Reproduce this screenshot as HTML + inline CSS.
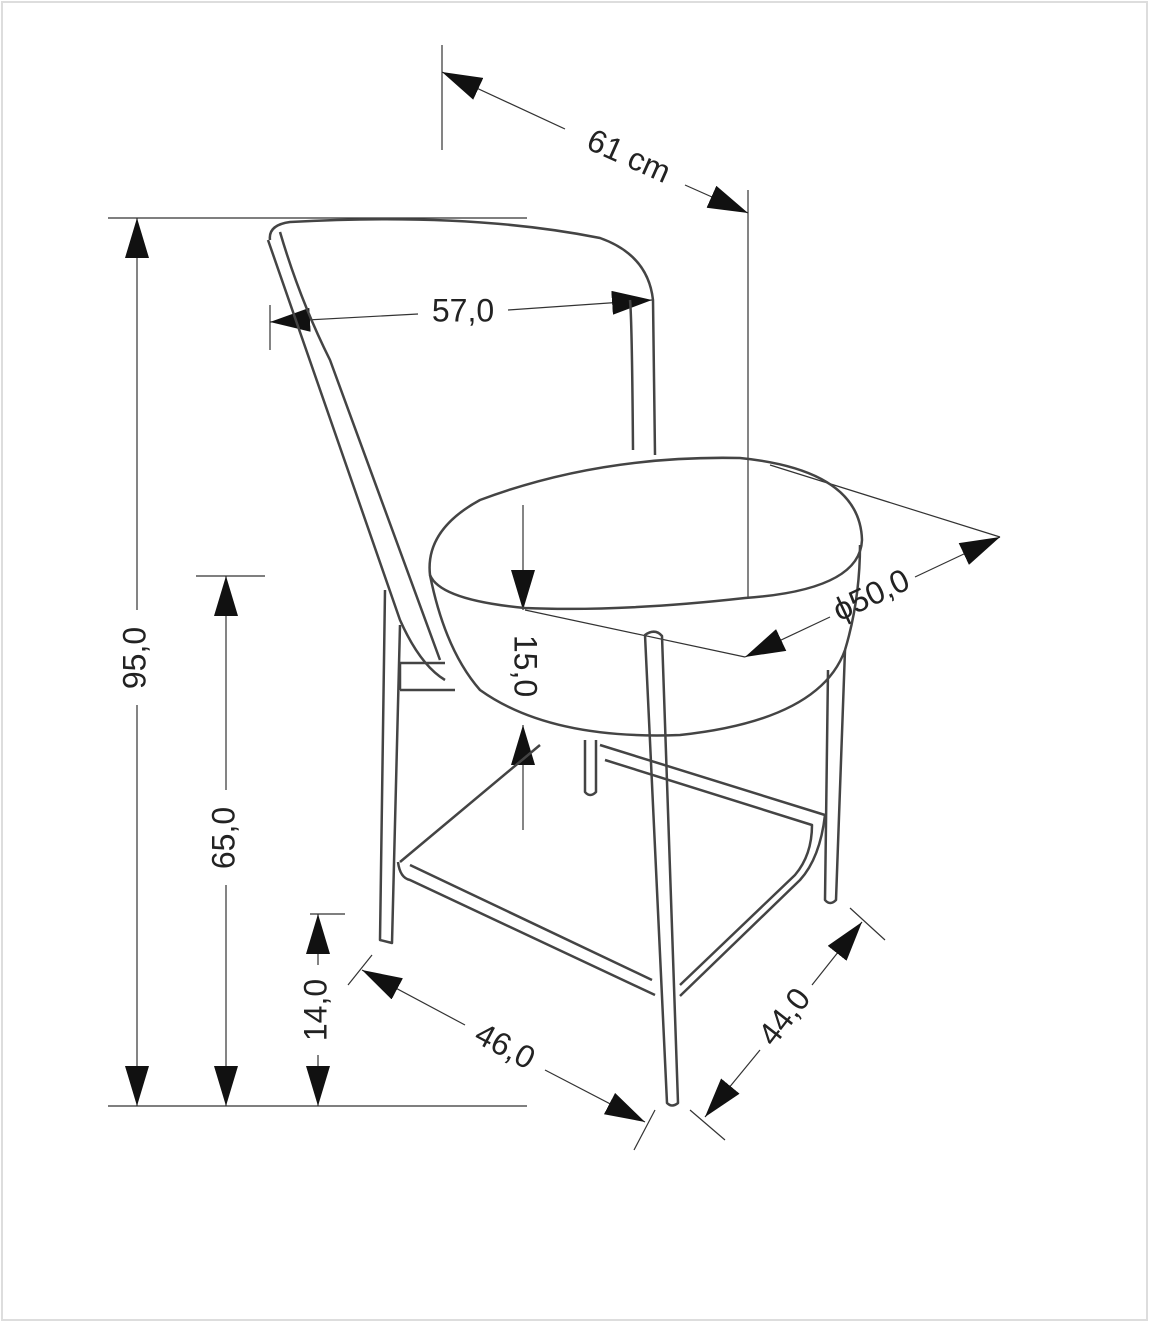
<!DOCTYPE html>
<html><head><meta charset="utf-8"><style>
html,body{margin:0;padding:0;background:#fff}
svg{display:block}
text{font-family:"Liberation Sans",sans-serif;font-size:32px;fill:#222}
</style></head><body>
<svg width="1149" height="1322" viewBox="0 0 1149 1322" xmlns="http://www.w3.org/2000/svg">
<defs>
<marker id="a" viewBox="0 0 10 10" refX="10" refY="5" markerWidth="10" markerHeight="10" markerUnits="userSpaceOnUse" orient="auto-start-reverse"><path d="M0,0 L10,5 L0,10 z" fill="#111"/></marker>
<marker id="b" viewBox="0 0 40 24" refX="40" refY="12" markerWidth="40" markerHeight="24" markerUnits="userSpaceOnUse" orient="auto-start-reverse"><path d="M0,0 L40,12 L0,24 z" fill="#111"/></marker>
</defs>
<rect x="2" y="2" width="1145" height="1318" fill="none" stroke="#ddd" stroke-width="2"/>
<g stroke="#333" stroke-width="1.2" fill="none">
<!-- extension lines -->
<line x1="442" y1="45" x2="442" y2="150"/>
<line x1="748" y1="190" x2="748" y2="598"/>
<line x1="108" y1="218" x2="527" y2="218"/>
<line x1="108" y1="1106" x2="527" y2="1106"/>
<line x1="196" y1="576" x2="265" y2="576"/>
<line x1="310" y1="914" x2="345" y2="914"/>
<line x1="270" y1="305" x2="270" y2="350"/>
<line x1="770" y1="465" x2="1000" y2="537"/>
<line x1="525" y1="610" x2="745" y2="657"/>
<line x1="348" y1="985" x2="372" y2="955"/>
<line x1="634" y1="1150" x2="655" y2="1110"/>
<line x1="850" y1="908" x2="885" y2="940"/>
<line x1="690" y1="1110" x2="725" y2="1140"/>
</g>
<g stroke="#333" stroke-width="1.2" fill="none" marker-start="url(#b)" marker-end="url(#b)">
<line x1="442" y1="72" x2="565" y2="129" marker-end="none"/>
<line x1="685" y1="185" x2="748" y2="213" marker-start="none"/>
<line x1="137" y1="218" x2="137" y2="610" marker-end="none"/>
<line x1="137" y1="705" x2="137" y2="1106" marker-start="none"/>
<line x1="226" y1="576" x2="226" y2="790" marker-end="none"/>
<line x1="226" y1="885" x2="226" y2="1106" marker-start="none"/>
<line x1="318" y1="914" x2="318" y2="965" marker-end="none"/>
<line x1="318" y1="1055" x2="318" y2="1106" marker-start="none"/>
<line x1="270" y1="322" x2="418" y2="314" marker-end="none"/>
<line x1="508" y1="310" x2="652" y2="300" marker-start="none"/>
<line x1="745" y1="657" x2="830" y2="617" marker-end="none"/>
<line x1="915" y1="577" x2="1000" y2="537" marker-start="none"/>
<line x1="523" y1="505" x2="523" y2="610" marker-start="none"/>
<line x1="523" y1="725" x2="523" y2="830" marker-end="none" style="marker-start:url(#b)"/>
<line x1="362" y1="970" x2="465" y2="1025" marker-end="none"/>
<line x1="545" y1="1070" x2="645" y2="1122" marker-start="none"/>
<line x1="862" y1="922" x2="812" y2="985" marker-end="none"/>
<line x1="760" y1="1050" x2="705" y2="1117" marker-start="none"/>
</g>
<!-- chair -->
<g stroke="#444" stroke-width="2.5" fill="none" stroke-linejoin="round">
<path d="M270,240 Q268,225 290,222 Q470,212 600,238 Q648,255 653,300 L655,455"/>
<path d="M630,300 Q632,320 633,450"/>
<path d="M268,240 L400,620 Q420,665 445,680"/>
<path d="M280,232 Q300,300 330,360 L440,660"/>
<path d="M430,575 Q425,530 480,500 Q600,455 740,458 Q860,470 862,540 Q860,590 745,598 Q620,612 525,608 Q440,600 430,575 Z"/>
<path d="M430,575 Q445,650 480,690 Q550,740 680,735 Q820,720 845,650 Q860,600 860,545"/>
<path d="M385,590 L380,940 L392,943 L400,625"/>
<path d="M400,663 L445,663 M400,690 L455,690 M400,663 L400,690"/>
<path d="M645,635 Q655,628 662,636 L678,1103 Q672,1108 667,1103 Z"/>
<path d="M828,670 L825,900 Q830,906 836,900 L845,650"/>
<path d="M585,740 L585,792 Q590,798 596,792 L596,740"/>
<path d="M400,862 L540,745 M398,862 Q400,878 410,880 L655,995 M680,996 L800,880 Q820,858 825,815 L600,745 M680,985 L795,875 Q812,855 812,825 L605,760 M410,865 L652,980"/>
</g>
<text transform="translate(628,158) rotate(24)" text-anchor="middle" dominant-baseline="middle" font-size="34">61 cm</text>
<text transform="translate(137,658) rotate(-90)" text-anchor="middle" dominant-baseline="middle">95,0</text>
<text transform="translate(226,838) rotate(-90)" text-anchor="middle" dominant-baseline="middle">65,0</text>
<text transform="translate(318,1010) rotate(-90)" text-anchor="middle" dominant-baseline="middle">14,0</text>
<text transform="translate(463,313)" text-anchor="middle" dominant-baseline="middle">57,0</text>
<text transform="translate(872,597) rotate(-25)" text-anchor="middle" dominant-baseline="middle">ϕ50,0</text>
<text transform="translate(523,666) rotate(90)" text-anchor="middle" dominant-baseline="middle">15,0</text>
<text transform="translate(504,1048) rotate(28)" text-anchor="middle" dominant-baseline="middle">46,0</text>
<text transform="translate(786,1018) rotate(-52)" text-anchor="middle" dominant-baseline="middle">44,0</text>
</svg>
</body></html>
